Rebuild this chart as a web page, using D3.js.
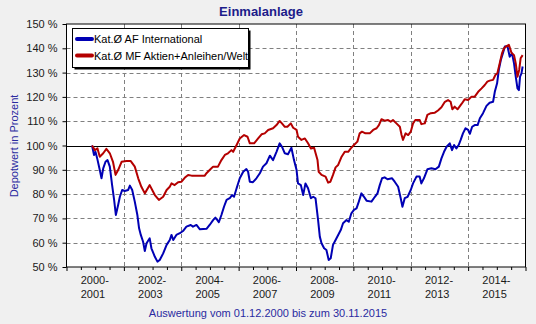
<!DOCTYPE html>
<html>
<head>
<meta charset="utf-8">
<script src="https://cdn.jsdelivr.net/npm/d3@7"></script>
<style>
  html, body { margin: 0; padding: 0; background: #f0f0f0; }
  svg { display: block; font-family: "Liberation Sans", Arial, sans-serif; }
</style>
</head>
<body>
<svg id="chart" width="536" height="324"></svg>
<script>
// ---- Data (decimal years, percent) ----
const seriesNames = ["Kat.Ø AF International", "Kat.Ø MF Aktien+Anleihen/Welt"];
const seriesColors = ["#0000b4", "#b40000"];

const blueYears = [2000.89,2000.96,2001.01,2001.07,2001.16,2001.22,2001.28,2001.36,2001.43,2001.51,2001.59,2001.66,2001.72,2001.80,2001.86,2001.94,2002.03,2002.15,2002.21,2002.29,2002.38,2002.47,2002.53,2002.59,2002.67,2002.73,2002.79,2002.90,2002.96,2003.08,2003.17,2003.25,2003.37,2003.49,2003.60,2003.66,2003.72,2003.83,2003.95,2004.06,2004.18,2004.33,2004.41,2004.53,2004.65,2004.88,2004.99,2005.11,2005.19,2005.26,2005.31,2005.40,2005.49,2005.58,2005.69,2005.77,2005.84,2005.93,2006.04,2006.16,2006.27,2006.33,2006.39,2006.50,2006.62,2006.74,2006.85,2006.97,2007.09,2007.20,2007.32,2007.43,2007.51,2007.61,2007.72,2007.84,2007.93,2008.02,2008.07,2008.17,2008.25,2008.33,2008.42,2008.52,2008.60,2008.68,2008.77,2008.83,2008.89,2008.98,2009.06,2009.14,2009.21,2009.29,2009.38,2009.47,2009.56,2009.64,2009.76,2009.84,2009.93,2010.02,2010.11,2010.19,2010.28,2010.37,2010.46,2010.63,2010.75,2010.84,2010.92,2011.00,2011.09,2011.19,2011.35,2011.44,2011.56,2011.65,2011.71,2011.79,2011.89,2012.00,2012.08,2012.20,2012.31,2012.37,2012.46,2012.58,2012.72,2012.86,2012.98,2013.07,2013.16,2013.25,2013.36,2013.44,2013.51,2013.59,2013.67,2013.74,2013.82,2013.91,2014.00,2014.06,2014.14,2014.23,2014.33,2014.41,2014.52,2014.64,2014.75,2014.87,2014.93,2015.01,2015.07,2015.14,2015.21,2015.28,2015.37,2015.45,2015.53,2015.60,2015.66,2015.72,2015.77,2015.81,2015.86,2015.90];
const blueValues = [100,96.1,97.4,94.7,89.9,86.5,90.6,93.3,94.0,91.3,83.7,77.6,71.4,75.5,78.9,81.7,81.3,81.7,83.5,81.7,76.9,71.4,65.9,63.2,60.4,56.6,59.8,61.8,57.7,54.2,52.2,52.9,55.6,59.1,61.1,63.2,61.1,63.2,63.9,64.8,66.6,67.3,66.6,67.3,65.5,65.7,67.3,69.3,70.3,69.3,68.4,71.4,74.8,77.6,78.3,79.6,78.9,82.4,86.5,89.2,90.3,89.2,85.1,84.9,86.5,88.6,91.3,92.7,95.8,94.0,97.4,100.9,99.5,96.8,96.4,99.1,94.0,89.9,84.4,83.7,79.6,84.4,82.4,78.3,78.9,78.3,69.3,62.5,59.8,57.7,57.0,52.9,53.6,59.1,61.1,63.2,65.2,68.0,69.3,68.6,72.1,73.5,74.1,76.9,80.3,78.9,77.3,76.9,78.9,80.3,83.7,86.5,86.9,86.1,86.5,85.1,83.0,78.3,74.8,78.3,78.9,81.7,84.4,87.2,87.2,84.4,86.5,90.2,90.6,90.2,91.3,94.7,97.4,99.5,100.9,98.1,100.2,98.8,100.2,102.3,105.0,107.1,106.4,104.8,107.7,108.4,108.4,111.2,113.3,116.3,117.6,118.0,122.1,125.6,131.1,135.2,137.9,140.7,140.9,136.5,137.9,133.8,128.3,123.5,122.8,128.3,129.7,132.5];

const redYears = [2000.89,2000.99,2001.08,2001.16,2001.28,2001.39,2001.51,2001.62,2001.71,2001.80,2001.92,2002.09,2002.24,2002.38,2002.50,2002.61,2002.73,2002.90,2003.02,2003.08,2003.22,2003.37,2003.49,2003.60,2003.66,2003.77,2003.89,2004.01,2004.12,2004.24,2004.36,2004.59,2004.82,2004.88,2004.99,2005.11,2005.28,2005.40,2005.52,2005.63,2005.75,2005.81,2005.93,2006.04,2006.19,2006.31,2006.39,2006.54,2006.68,2006.80,2006.91,2007.03,2007.20,2007.32,2007.43,2007.51,2007.61,2007.70,2007.82,2007.90,2008.02,2008.07,2008.19,2008.31,2008.42,2008.52,2008.63,2008.75,2008.79,2008.89,2009.03,2009.12,2009.20,2009.29,2009.38,2009.47,2009.59,2009.70,2009.82,2009.91,2010.02,2010.14,2010.22,2010.30,2010.42,2010.57,2010.69,2010.81,2010.89,2010.98,2011.09,2011.21,2011.30,2011.38,2011.50,2011.62,2011.68,2011.73,2011.82,2011.91,2012.00,2012.08,2012.16,2012.31,2012.37,2012.49,2012.58,2012.70,2012.84,2012.95,2013.07,2013.19,2013.30,2013.39,2013.45,2013.53,2013.63,2013.77,2013.88,2014.00,2014.12,2014.23,2014.35,2014.47,2014.58,2014.67,2014.75,2014.87,2014.95,2015.02,2015.10,2015.18,2015.25,2015.34,2015.42,2015.51,2015.60,2015.66,2015.72,2015.78,2015.83,2015.90];
const redValues = [100,98.1,98.8,95.4,96.8,98.6,96.8,93.3,87.9,89.9,93.3,93.6,93.6,91.3,86.5,83.0,80.3,83.7,81.0,79.6,77.6,78.9,81.7,83.0,84.4,83.7,84.9,85.1,86.7,87.9,87.6,87.6,87.6,88.6,89.9,91.3,91.3,94.0,96.1,96.8,98.1,97.4,100.2,102.9,104.3,103.6,100.9,100.9,102.9,104.6,105.0,106.4,107.1,108.4,110.1,109.1,107.7,107.7,109.1,107.3,106.4,103.6,102.3,102.9,100.9,98.8,99.1,94.0,89.2,87.9,87.2,84.7,85.1,87.9,91.0,92.0,95.4,97.4,97.4,98.8,100.2,101.6,105.0,105.7,105.0,105.0,106.4,107.1,108.4,110.8,110.2,110.5,109.8,110.5,109.1,107.7,104.3,102.3,105.0,104.3,105.7,109.1,110.5,110.5,108.8,109.1,112.6,113.3,113.5,114.4,115.7,118.0,118.7,118.0,114.9,116.0,114.9,117.1,119.0,118.7,120.1,120.1,122.1,123.5,124.9,126.3,126.7,127.0,129.0,129.7,133.8,137.9,140.0,140.9,141.4,138.2,137.2,133.8,128.3,131.1,135.9,137.2];

const yTicks = [50, 60, 70, 80, 90, 100, 110, 120, 130, 140, 150];
const xMajorTicks = [2000, 2002, 2004, 2006, 2008, 2010, 2012, 2014, 2016];
const xTickLabels = [["2000-","2001"],["2002-","2003"],["2004-","2005"],["2006-","2007"],["2008-","2009"],["2010-","2011"],["2012-","2013"],["2014-","2015"]];
const titleText = "Einmalanlage";
const yAxisTitle = "Depotwert in Prozent";
const footerText = "Auswertung vom 01.12.2000 bis zum 30.11.2015";

// ---- Layout ----
const L = 66.5, R = 525.5, T = 24, B = 267;
const svg = d3.select("#chart");
const x = d3.scaleLinear().domain([2000, 2016]).range([L, R]);
const y = d3.scaleLinear().domain([50, 150]).range([B, T]);

svg.append("rect").attr("width", 536).attr("height", 324).attr("fill", "#f0f0f0");
svg.append("rect").attr("x", L).attr("y", T).attr("width", R - L).attr("height", B - T).attr("fill", "#fff");

// grid
const grid = svg.append("g").attr("stroke", "#808080").attr("stroke-width", 1).attr("stroke-dasharray", "4,3");
grid.selectAll(".hg").data(yTicks.filter(d => d !== 50 && d !== 150 && d !== 100)).enter().append("line")
  .attr("x1", L).attr("x2", R).attr("y1", d => Math.round(y(d)) + 0.5).attr("y2", d => Math.round(y(d)) + 0.5);
grid.selectAll(".vg").data(xMajorTicks.slice(1, -1)).enter().append("line")
  .attr("y1", T).attr("y2", B).attr("x1", d => Math.round(x(d)) + 0.5).attr("x2", d => Math.round(x(d)) + 0.5);

// 100% line
svg.append("line").attr("x1", L).attr("x2", R).attr("y1", Math.round(y(100)) + 0.5).attr("y2", Math.round(y(100)) + 0.5)
  .attr("stroke", "#000").attr("stroke-width", 1.2);

// series
const line = d3.line().x(d => x(d[0])).y(d => y(d[1]));
const blueData = blueYears.map((yr, i) => [yr, blueValues[i]]);
const redData = redYears.map((yr, i) => [yr, redValues[i]]);
[blueData, redData].forEach((data, i) => {
  svg.append("path").datum(data).attr("d", line).attr("fill", "none")
    .attr("stroke", seriesColors[i]).attr("stroke-width", 2).attr("stroke-linejoin", "round");
});

// frame
svg.append("rect").attr("x", L).attr("y", T).attr("width", R - L).attr("height", B - T)
  .attr("fill", "none").attr("stroke", "#000").attr("stroke-width", 1);

// y axis
const yAxis = svg.append("g").attr("transform", `translate(${L},0)`)
  .call(d3.axisLeft(y).tickValues(yTicks).tickSize(4).tickPadding(5).tickFormat(d => d + " %"));
yAxis.select(".domain").remove();
yAxis.selectAll("text").attr("font-size", 11).attr("fill", "#1a1a1a").attr("font-family", "Liberation Sans, Arial, sans-serif");
yAxis.selectAll("line").attr("stroke", "#000");

// x axis ticks
const xMinor = d3.range(2000, 2016.01, 0.5).filter(v => v % 2 !== 0);
const xAxisMinor = svg.append("g").attr("transform", `translate(0,${B})`)
  .call(d3.axisBottom(x).tickValues(xMinor).tickSize(3).tickFormat(""));
xAxisMinor.select(".domain").remove();
xAxisMinor.selectAll("line").attr("stroke", "#000");
const xAxis = svg.append("g").attr("transform", `translate(0,${B})`)
  .call(d3.axisBottom(x).tickValues(xMajorTicks).tickSize(4).tickFormat(""));
xAxis.select(".domain").remove();
xAxis.selectAll("line").attr("stroke", "#000");

// x labels
const xl = svg.append("g").attr("font-size", 11).attr("fill", "#1a1a1a");
xTickLabels.forEach((lab, i) => {
  const cx = (x(xMajorTicks[i]) + x(xMajorTicks[i + 1])) / 2 - 14.5;
  xl.append("text").attr("x", cx).attr("y", 284).text(lab[0]);
  xl.append("text").attr("x", cx).attr("y", 298).text(lab[1]);
});

// title
svg.append("text").attr("x", 261).attr("y", 16).attr("text-anchor", "middle")
  .attr("font-size", 13).attr("font-weight", "bold").attr("fill", "#1c1c8a").text(titleText);

// y title
svg.append("text").attr("transform", "translate(18,146) rotate(-90)").attr("text-anchor", "middle")
  .attr("font-size", 11).attr("fill", "#2a2aa0").text(yAxisTitle);

// footer
svg.append("text").attr("x", 268).attr("y", 317).attr("text-anchor", "middle")
  .attr("font-size", 11).attr("fill", "#2a2aa0").text(footerText);

// legend
const lg = svg.append("g");
lg.append("rect").attr("x", 74.5).attr("y", 30.5).attr("width", 176).attr("height", 39).attr("fill", "#000");
lg.append("rect").attr("x", 72.5).attr("y", 28.5).attr("width", 176).attr("height", 39).attr("fill", "#fff")
  .attr("stroke", "#000").attr("stroke-width", 1);
seriesNames.forEach((name, i) => {
  const yy = 39 + i * 16.5;
  lg.append("line").attr("x1", 77).attr("x2", 92).attr("y1", yy).attr("y2", yy)
    .attr("stroke", seriesColors[i]).attr("stroke-width", 4).attr("stroke-linecap", "round");
  lg.append("text").attr("x", 94).attr("y", yy + 4).attr("font-size", 11).attr("fill", "#000").text(name);
});
</script>
</body>
</html>
